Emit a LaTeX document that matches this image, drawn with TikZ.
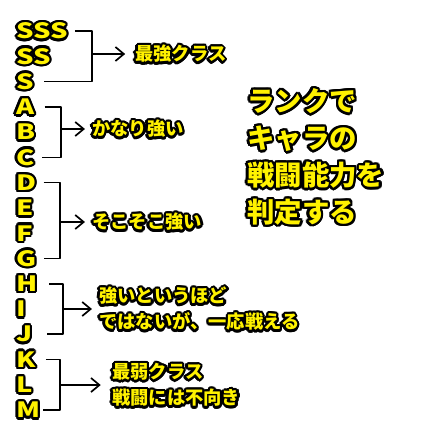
\documentclass[tikz,border=0pt]{standalone}
\usepackage{fontspec}
\newfontfamily\jpfont{Noto Sans CJK JP}
\usetikzlibrary{arrows.meta, positioning}
% yellow text with a black rim: black copies round the text, then the text
\newcommand{\olin}[1]{%
  \leavevmode\rlap{\color{black}%
    \foreach \ang in {0,22.5,...,337.5}{%
      \pgfmathsetlengthmacro\odx{1.7pt*cos(\ang)}%
      \pgfmathsetlengthmacro\ody{1.7pt*sin(\ang)}%
      \rlap{\kern\odx\raisebox{\ody}{#1}}}}%
  #1}

\begin{document}
\begin{tikzpicture}[
    x = 0.025cm, y = -0.025cm,
    rank/.style  = {anchor=west, inner sep=0pt, text=yellow,
                    font=\jpfont\bfseries\fontsize{15}{15}\selectfont},
    lbl/.style   = {anchor=west, inner sep=0pt, text=yellow, align=left,
                    font=\jpfont\bfseries\fontsize{13}{18.5}\selectfont},
    title/.style = {anchor=west, inner sep=0pt, text=yellow, align=left,
                    font=\jpfont\bfseries\fontsize{19.5}{26.3}\selectfont},
    brk/.style   = {draw, line width=1.2pt, line join=round},
    arr/.style   = {-{Straight Barb[length=6pt, width=10pt]}, line width=1.2pt},
  ]
  \useasboundingbox[fill=white] (0,0) rectangle (440,440);
  % rank letters
  \foreach \t/\n [count=\i from 0] in {SSS/sss, SS/ss, S/s, A/a, B/b, C/c, D/d,
      E/e, F/f, G/g, H/h, I/i, J/j, K/k, L/l, M/m}
    \node[rank] (\n) at (16, 31+25.27*\i) {\olin{\scalebox{1.3}[1]{\t}}};
  % group labels
  \node[lbl] (best) at (135,54) {\olin{最強クラス}};
  \node[lbl] (fair) at (92,129) {\olin{かなり強い}};
  \node[lbl] (mid) at (92,222) {\olin{そこそこ強い}};
  \node[lbl] (low) at (99,309) {\olin{強いというほど}\\\olin{ではないが、一応戦える}};
  \node[lbl] (worst) at (112,385) {\olin{最弱クラス}\\\olin{戦闘には不向き}};
  \node[title] (head) at (247,157)
    {\olin{ランクで}\\\olin{キャラの}\\\olin{戦闘能力を}\\\olin{判定する}};
  % brackets
  \coordinate (sp1) at (92,54);
  \coordinate (sp2) at (61,129);
  \coordinate (sp3) at (60,222);
  \coordinate (sp4) at (63,309);
  \coordinate (sp5) at (60,385);
  \draw[brk] ([xshift=5pt]sss.east) -| (sp1) |- ([xshift=7pt]s.east);
  \draw[brk] ([xshift=7pt]a.east) -| (sp2) |- ([xshift=5pt]c.east);
  \draw[brk] ([xshift=5pt]d.east) -| (sp3) |- ([xshift=5pt]g.east);
  \draw[brk] ([xshift=8pt]h.east) -| (sp4) |- ([xshift=10pt]j.east);
  \draw[brk] ([xshift=7pt]k.east) -| (sp5) |- ([xshift=2pt]m.east);
  \draw[arr, shorten >=7pt] (sp1) -- (best.west);
  \draw[arr, shorten >=5pt] (sp2) -- (fair.west);
  \draw[arr, shorten >=5pt] (sp3) -- (mid.west);
  \draw[arr, shorten >=5pt] (sp4) -- (low.west);
  \draw[arr, shorten >=8pt] (sp5) -- (worst.west);
\end{tikzpicture}
\end{document}
